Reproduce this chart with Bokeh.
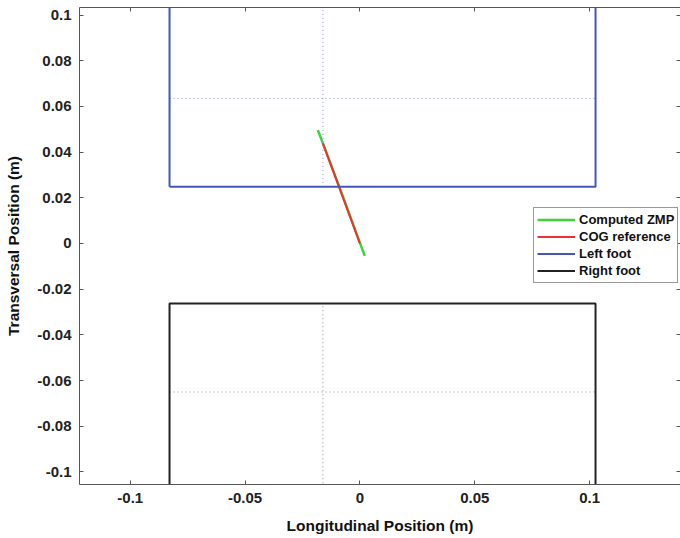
from bokeh.plotting import figure
from bokeh.models import Range1d, FixedTicker, LinearAxis, Legend, LegendItem
from bokeh.embed import file_html
from bokeh.resources import INLINE

# ---- data ----
zmp_x = [-0.0183, -0.0080, 0.0021]
zmp_y = [0.0496, 0.0222, -0.0054]
cog_x = [-0.0161, -0.0080, 0.0]
cog_y = [0.0438, 0.0218, 0.0]

foot_x_min = -0.0829
foot_x_max = 0.1026
left_foot_y = [0.0248, 0.1400]
right_foot_y = [-0.1400, -0.0263]
ankle_x = -0.0161
left_ankle_y = 0.0635
right_ankle_y = -0.0650

x_ticks = [-0.1, -0.05, 0, 0.05, 0.1]
x_tick_labels = ["-0.1", "-0.05", "0", "0.05", "0.1"]
y_ticks = [-0.1, -0.08, -0.06, -0.04, -0.02, 0, 0.02, 0.04, 0.06, 0.08, 0.1]
y_tick_labels = ["-0.1", "-0.08", "-0.06", "-0.04", "-0.02", "0", "0.02", "0.04", "0.06", "0.08", "0.1"]

x_lim = (-0.1221, 0.1396)
y_lim = (-0.1055, 0.1033)

FONT = "Liberation Sans"
AX = "#555555"

p = figure(width=680, height=538, output_backend="svg", toolbar_location=None,
           x_range=Range1d(*x_lim), y_range=Range1d(*y_lim))
p.min_border_left = 79
p.min_border_right = 0
p.min_border_top = 7
p.min_border_bottom = 54
p.background_fill_color = "white"
p.border_fill_color = "white"
p.outline_line_color = None
p.xgrid.visible = False
p.ygrid.visible = False

def style_axis(ax, ticks, labels):
    ax.ticker = FixedTicker(ticks=ticks)
    ax.major_label_overrides = {t: l for t, l in zip(ticks, labels)}
    ax.major_tick_in = 4
    ax.major_tick_out = 0
    ax.minor_tick_in = 0
    ax.minor_tick_out = 0
    ax.axis_line_color = AX
    ax.major_tick_line_color = AX
    ax.major_label_text_font = FONT
    ax.major_label_text_font_style = "bold"
    ax.major_label_text_font_size = "15px"
    ax.major_label_text_color = "#222222"
    ax.axis_label_text_font = FONT
    ax.axis_label_text_font_style = "bold"
    ax.axis_label_text_font_size = "15.5px"
    ax.axis_label_text_color = "#111111"

style_axis(p.xaxis[0], x_ticks, x_tick_labels)
style_axis(p.yaxis[0], y_ticks, y_tick_labels)
p.xaxis[0].axis_label = "Longitudinal Position (m)"
p.yaxis[0].axis_label = "Transversal Position (m)"
p.xaxis[0].major_label_standoff = 8
p.xaxis[0].axis_label_standoff = 11
p.yaxis[0].major_label_standoff = 8
p.yaxis[0].axis_label_standoff = 12

for loc, ticks in (("above", x_ticks), ("right", y_ticks)):
    ax = LinearAxis(ticker=FixedTicker(ticks=ticks))
    ax.major_tick_in = 4
    ax.major_tick_out = 0
    ax.minor_tick_in = 0
    ax.minor_tick_out = 0
    ax.major_label_text_font_size = "0px"
    ax.major_label_text_color = None
    ax.major_label_standoff = 0
    ax.axis_line_color = AX if loc == "above" else None
    ax.major_tick_line_color = AX
    p.add_layout(ax, loc)

# trajectories
r_zmp = p.line(zmp_x, zmp_y, line_color="#3fd23f", line_width=2.5)
r_cog = p.line(cog_x, cog_y, line_color="#ee3030", line_width=2)

# feet centre lines (dotted)
p.line([ankle_x, ankle_x], [left_foot_y[0], left_foot_y[1]], line_color="#8a92dc",
       line_width=1, line_dash="1 3")
p.line([foot_x_min, foot_x_max], [left_ankle_y, left_ankle_y], line_color="#8a92dc",
       line_width=1, line_dash="1 3")
p.line([ankle_x, ankle_x], [right_foot_y[0], right_foot_y[1]], line_color="#8a8a8a",
       line_width=1, line_dash="1 3")
p.line([foot_x_min, foot_x_max], [right_ankle_y, right_ankle_y], line_color="#8a8a8a",
       line_width=1, line_dash="1 3")

# feet outlines
def rect_xy(x0, x1, y0, y1):
    return [x0, x1, x1, x0, x0], [y0, y0, y1, y1, y0]

lx, ly = rect_xy(foot_x_min, foot_x_max, left_foot_y[0], left_foot_y[1])
r_left = p.line(lx, ly, line_color="#4455bb", line_width=2)
rx, ry = rect_xy(foot_x_min, foot_x_max, right_foot_y[0], right_foot_y[1])
r_right = p.line(rx, ry, line_color="#222222", line_width=2)

legend = Legend(items=[
    LegendItem(label="Computed ZMP", renderers=[r_zmp]),
    LegendItem(label="COG reference", renderers=[r_cog]),
    LegendItem(label="Left foot", renderers=[r_left]),
    LegendItem(label="Right foot", renderers=[r_right]),
], location=(454, 201))
legend.padding = 3
legend.margin = 0
legend.spacing = 0
legend.glyph_width = 38
legend.glyph_height = 17
legend.label_height = 17
legend.label_standoff = 4
legend.label_text_font = FONT
legend.label_text_font_style = "bold"
legend.label_text_font_size = "13px"
legend.label_text_color = "#111111"
legend.border_line_color = "#333333"
legend.border_line_width = 1
legend.background_fill_color = "white"
legend.background_fill_alpha = 1
p.add_layout(legend, "center")

open("out.html", "w").write(file_html(p, INLINE))
